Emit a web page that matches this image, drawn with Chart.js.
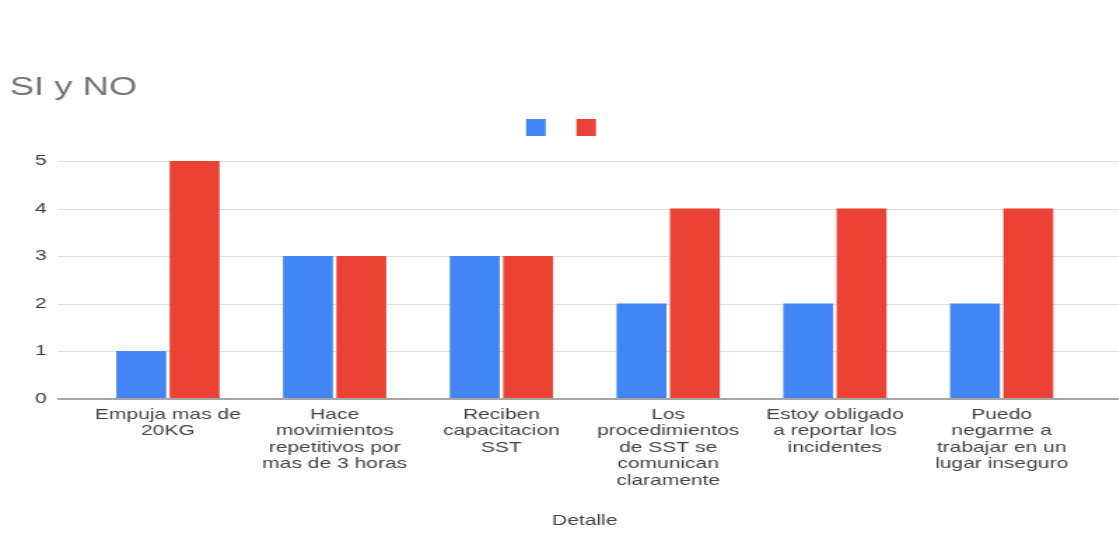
<!DOCTYPE html>
<html lang="es">
<head>
    <meta charset="UTF-8">
    <title>SI y NO</title>
    <script src="https://cdn.jsdelivr.net/npm/chart.js"></script>
    <style>
        body {
            margin: 0;
            background: #ffffff;
            overflow: hidden;
        }
        /* the source picture is stretched sideways, so the chart is drawn narrow and widened */
        #chart-container {
            width: 799px;
            height: 539px;
            transform: scaleX(1.4);
            transform-origin: 0 0;
        }
    </style>
</head>
<body>
    <div id="chart-container">
        <canvas id="siNoChart" width="799" height="539"></canvas>
    </div>

    <script>
        // Data
        const categories = [
            ['Empuja mas de', '20KG'],
            ['Hace', 'movimientos', 'repetitivos por', 'mas de 3 horas'],
            ['Reciben', 'capacitacion', 'SST'],
            ['Los', 'procedimientos', 'de SST se', 'comunican', 'claramente'],
            ['Estoy obligado', 'a reportar los', 'incidentes'],
            ['Puedo', 'negarme a', 'trabajar en un', 'lugar inseguro']
        ];
        const siValues = [1, 3, 3, 2, 2, 2];
        const noValues = [5, 3, 3, 4, 4, 4];
        const yTicks = [0, 1, 2, 3, 4, 5];

        const fontFamily = '"Liberation Sans", Arial, sans-serif';
        const gridStartX = 41;
        const legendShift = 13;

        // Horizontal grid lines run wider than the plot area, like the original
        const extendedGrid = {
            id: 'extendedGrid',
            afterLayout(chart) {
                // legend sits a little right of the default centre
                chart.legend.left += legendShift;
                chart.legend.right += legendShift;
            },
            beforeDatasetsDraw(chart) {
                const { ctx, scales: { y } } = chart;
                ctx.save();
                ctx.strokeStyle = '#dedede';
                ctx.lineWidth = 1;
                y.ticks.forEach(t => {
                    if (t.value === 0) return;
                    const py = Math.round(y.getPixelForValue(t.value)) + 0.5;
                    ctx.beginPath();
                    ctx.moveTo(gridStartX, py);
                    ctx.lineTo(chart.width, py);
                    ctx.stroke();
                });
                ctx.restore();
            },
            afterDatasetsDraw(chart) {
                const { ctx, scales: { y } } = chart;
                const py = Math.round(y.getPixelForValue(0));
                ctx.save();
                ctx.strokeStyle = '#a6a6a6';
                ctx.lineWidth = 2;
                ctx.beginPath();
                ctx.moveTo(gridStartX, py);
                ctx.lineTo(chart.width, py);
                ctx.stroke();
                ctx.restore();
            }
        };

        const ctx = document.getElementById('siNoChart').getContext('2d');
        new Chart(ctx, {
            type: 'bar',
            data: {
                labels: categories,
                datasets: [
                    {
                        label: '',
                        data: siValues,
                        backgroundColor: '#4285f4',
                        borderWidth: 0,
                        categoryPercentage: 0.64,
                        barPercentage: 0.935
                    },
                    {
                        label: '',
                        data: noValues,
                        backgroundColor: '#ea4335',
                        borderWidth: 0,
                        categoryPercentage: 0.64,
                        barPercentage: 0.935
                    }
                ]
            },
            options: {
                responsive: false,
                animation: false,
                layout: {
                    padding: { left: 7, right: 24, top: 0, bottom: 0 }
                },
                plugins: {
                    title: {
                        display: true,
                        text: 'SI y NO',
                        align: 'start',
                        color: '#757575',
                        weight: 2000,
                        font: { family: fontFamily, size: 26, weight: 'normal' },
                        padding: { top: 72.4, bottom: 0 }
                    },
                    legend: {
                        display: true,
                        position: 'top',
                        weight: 1000,
                        labels: {
                            boxWidth: 14,
                            boxHeight: 17,
                            padding: 15.4,
                            font: { family: fontFamily, size: 13 }
                        }
                    },
                    // empty subtitle used as a gap between legend and plot
                    subtitle: {
                        display: true,
                        text: '',
                        weight: 500,
                        font: { family: fontFamily, size: 10, lineHeight: 1 },
                        padding: { top: 5, bottom: 0 }
                    },
                    tooltip: { enabled: false }
                },
                scales: {
                    x: {
                        grid: { display: false, drawTicks: false },
                        border: { display: false },
                        ticks: {
                            autoSkip: false,
                            maxRotation: 0,
                            padding: 8,
                            color: '#424242',
                            font: { family: fontFamily, size: 15, lineHeight: 1.1 }
                        },
                        title: {
                            display: true,
                            text: 'Detalle',
                            color: '#424242',
                            font: { family: fontFamily, size: 15 },
                            padding: { top: 15, bottom: 9 }
                        }
                    },
                    y: {
                        min: 0,
                        max: 5,
                        afterBuildTicks: scale => {
                            scale.ticks = yTicks.map(v => ({ value: v }));
                        },
                        afterFit: scale => {
                            scale.width = 53.4;
                        },
                        grid: { display: false, drawTicks: false },
                        border: { display: false },
                        ticks: {
                            padding: 27,
                            color: '#3c3c3c',
                            font: { family: fontFamily, size: 15 }
                        }
                    }
                }
            },
            plugins: [extendedGrid]
        });
    </script>
</body>
</html>
